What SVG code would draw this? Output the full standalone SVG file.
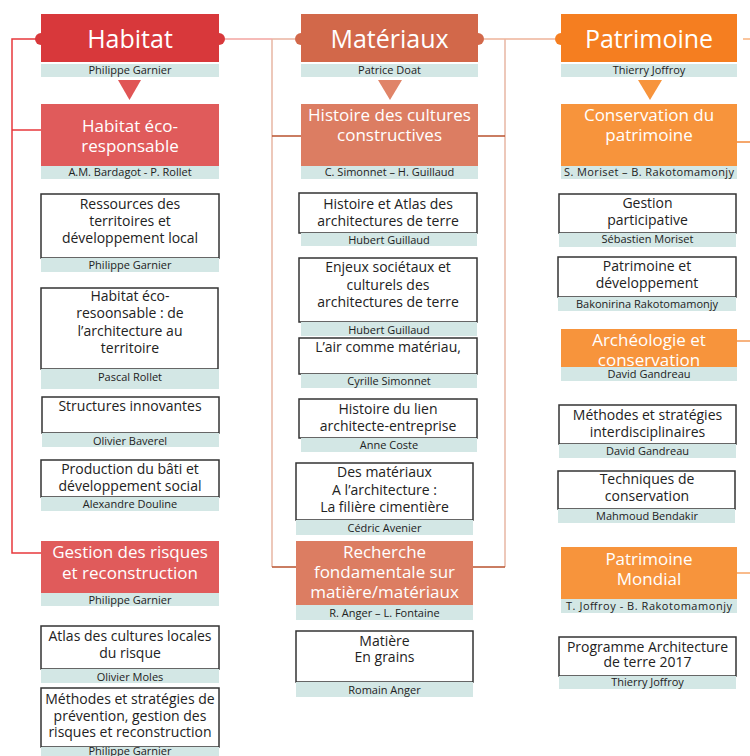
<svg xmlns="http://www.w3.org/2000/svg" width="750" height="756" viewBox="0 0 750 756">
<style>
text{font-family:"Open Sans","DejaVu Sans",sans-serif;text-anchor:middle}
.h{font-size:25px;fill:#fff}
.s{font-size:17px;fill:#fff}
.t{font-size:14px;fill:#222}
.c{font-size:11px;fill:#222}
.box{fill:#fff;stroke:#333;stroke-width:1.5}
.cap{fill:#d3e7e5}
.ln{fill:none;stroke-width:1.5}
</style>
<rect width="750" height="756" fill="#fff"/>
<g id="connectors" class="ln">
<path d="M41,39H12V553H41M12,130H50" stroke="#e8383c"/>
<path d="M225,39H272" stroke="#f3a5a0"/>
<path d="M272,39H295" stroke="#eab3a1"/>
<path d="M272,39V567M505,39V567" stroke="#e8b6a4"/>
<path d="M272,136H310M465,136H505M272,567H298M465,567H505" stroke="#b9532f"/>
<path d="M484,39H555" stroke="#eeb39a"/>
<path d="M743,39H750" stroke="#f9b27c"/>
<path d="M737,142H750" stroke="#f28a3b"/>
<path d="M737,341H750" stroke="#f59a55"/>
<path d="M737,573H750" stroke="#f7a565"/>
</g>
<!-- Habitat column -->
<g id="habitat">
<circle cx="41" cy="39" r="6" fill="#d8383b"/><circle cx="219" cy="39" r="6" fill="#d8383b"/>
<rect x="41" y="14" width="178" height="48" fill="#d8383b"/>
<text class="h" x="130" y="48">Habitat</text>
<rect class="cap" x="41" y="64" width="178" height="13"/>
<text class="c" x="130" y="74">Philippe Garnier</text>
<path d="M118,80H141L129.5,100Z" fill="#e05555"/>
</g>
<g id="habitat-eco">
<rect x="41" y="104" width="178" height="62" fill="#e05b5b"/>
<text class="s" x="130" y="132">Habitat éco-</text>
<text class="s" x="130" y="152">responsable</text>
<rect class="cap" x="41" y="166" width="178" height="13"/>
<text class="c" x="130" y="176">A.M. Bardagot - P. Rollet</text>
</g>
<g id="ressources">
<rect class="box" x="41" y="194" width="178" height="64"/>
<text class="t" x="130" y="209">Ressources des</text>
<text class="t" x="130" y="226">territoires et</text>
<text class="t" x="130" y="243">développement local</text>
<rect class="cap" x="41" y="258" width="178" height="14"/>
<text class="c" x="130" y="269">Philippe Garnier</text>
</g>
<g id="habitat-eco-resp">
<rect class="box" x="41" y="288" width="177" height="81"/>
<text class="t" x="130" y="301">Habitat éco-</text>
<text class="t" x="130" y="318">resoonsable : de</text>
<text class="t" x="130" y="336">l’architecture au</text>
<text class="t" x="130" y="353">territoire</text>
<rect class="cap" x="41" y="369" width="178" height="20"/>
<text class="c" x="130" y="381">Pascal Rollet</text>
</g>
<g id="structures">
<rect class="box" x="42" y="397" width="177" height="36"/>
<text class="t" x="130" y="411">Structures innovantes</text>
<rect class="cap" x="42" y="433" width="177" height="14"/>
<text class="c" x="130" y="445">Olivier Baverel</text>
</g>
<g id="production">
<rect class="box" x="41" y="460" width="178" height="37"/>
<text class="t" x="130" y="474">Production du bâti et</text>
<text class="t" x="130" y="491">développement social</text>
<rect class="cap" x="41" y="497" width="178" height="14"/>
<text class="c" x="130" y="508">Alexandre Douline</text>
</g>
<g id="gestion-risques">
<rect x="41" y="541" width="178" height="52" fill="#e05b5b"/>
<text class="s" x="130" y="558">Gestion des risques</text>
<text class="s" x="130" y="579">et reconstruction</text>
<rect class="cap" x="41" y="593" width="178" height="13"/>
<text class="c" x="130" y="604">Philippe Garnier</text>
</g>
<g id="atlas-risque">
<rect class="box" x="41" y="626" width="178" height="43"/>
<text class="t" x="130" y="641">Atlas des cultures locales</text>
<text class="t" x="130" y="658">du risque</text>
<rect class="cap" x="41" y="669" width="178" height="14"/>
<text class="c" x="130" y="681">Olivier Moles</text>
</g>
<g id="methodes-prevention">
<rect class="box" x="41" y="688" width="178" height="59"/>
<text class="t" x="130" y="704">Méthodes et stratégies de</text>
<text class="t" x="130" y="721">prévention, gestion des</text>
<text class="t" x="130" y="737">risques et reconstruction</text>
<rect class="cap" x="41" y="747" width="178" height="9"/>
<text class="c" x="130" y="755">Philippe Garnier</text>
</g>
<!-- Matériaux column -->
<g id="materiaux">
<circle cx="301" cy="39" r="6" fill="#d2684a"/><circle cx="478" cy="39" r="6" fill="#d2684a"/>
<rect x="301" y="14" width="177" height="48" fill="#d2684a"/>
<text class="h" x="389.5" y="48">Matériaux</text>
<rect class="cap" x="301" y="64" width="177" height="13"/>
<text class="c" x="389.5" y="74">Patrice Doat</text>
<path d="M378,80H402L390,100Z" fill="#e08468"/>
</g>
<g id="histoire-cultures">
<rect x="301" y="104" width="177" height="62" fill="#dc7d62"/>
<text class="s" x="389.5" y="121">Histoire des cultures</text>
<text class="s" x="389.5" y="141">constructives</text>
<rect class="cap" x="301" y="166" width="177" height="13"/>
<text class="c" x="389.5" y="176">C. Simonnet – H. Guillaud</text>
</g>
<g id="histoire-atlas">
<rect class="box" x="299" y="193" width="178" height="40"/>
<text class="t" x="388" y="209">Histoire et Atlas des</text>
<text class="t" x="388" y="226">architectures de terre</text>
<rect class="cap" x="301" y="233" width="176" height="13"/>
<text class="c" x="389" y="244">Hubert Guillaud</text>
</g>
<g id="enjeux">
<rect class="box" x="299" y="258" width="178" height="64"/>
<text class="t" x="388" y="272">Enjeux sociétaux et</text>
<text class="t" x="388" y="290">culturels des</text>
<text class="t" x="388" y="307">architectures de terre</text>
<rect class="cap" x="301" y="322" width="176" height="14"/>
<text class="c" x="389" y="334">Hubert Guillaud</text>
</g>
<g id="air">
<rect class="box" x="299" y="338" width="178" height="36"/>
<text class="t" x="388" y="352">L’air comme matériau,</text>
<rect class="cap" x="301" y="374" width="176" height="14"/>
<text class="c" x="389" y="385">Cyrille Simonnet</text>
</g>
<g id="lien">
<rect class="box" x="299" y="399" width="178" height="39"/>
<text class="t" x="388" y="414">Histoire du lien</text>
<text class="t" x="388" y="431">architecte-entreprise</text>
<rect class="cap" x="301" y="438" width="176" height="14"/>
<text class="c" x="389" y="449">Anne Coste</text>
</g>
<g id="cimentiere">
<rect class="box" x="296" y="463" width="177" height="57"/>
<text class="t" x="384.5" y="477">Des matériaux</text>
<text class="t" x="384.5" y="495">A l’architecture :</text>
<text class="t" x="384.5" y="512">La filière cimentière</text>
<rect class="cap" x="296" y="520" width="177" height="15"/>
<text class="c" x="384.5" y="532">Cédric Avenier</text>
</g>
<g id="recherche">
<rect x="296" y="541" width="177" height="64" fill="#dc7d62"/>
<text class="s" x="384.5" y="558">Recherche</text>
<text class="s" x="384.5" y="578">fondamentale sur</text>
<text class="s" x="384.5" y="598">matière/matériaux</text>
<rect class="cap" x="296" y="605" width="177" height="15"/>
<text class="c" x="384.5" y="617">R. Anger – L. Fontaine</text>
</g>
<g id="matiere">
<rect class="box" x="296" y="631" width="177" height="51"/>
<text class="t" x="384.5" y="646">Matière</text>
<text class="t" x="384.5" y="662">En grains</text>
<rect class="cap" x="296" y="682" width="177" height="15"/>
<text class="c" x="384.5" y="694">Romain Anger</text>
</g>
<!-- Patrimoine column -->
<g id="patrimoine">
<circle cx="561" cy="39" r="6" fill="#f57e20"/>
<rect x="561" y="14" width="176" height="48" fill="#f57e20"/>
<text class="h" x="649" y="48">Patrimoine</text>
<rect class="cap" x="561" y="64" width="176" height="13"/>
<text class="c" x="649" y="74">Thierry Joffroy</text>
<path d="M638,80H662L650,100Z" fill="#f7943c"/>
</g>
<g id="conservation">
<rect x="561" y="104" width="176" height="62" fill="#f7943c"/>
<text class="s" x="649" y="121">Conservation du</text>
<text class="s" x="649" y="141">patrimoine</text>
<rect class="cap" x="561" y="166" width="176" height="13"/>
<text class="c" x="649" y="176" textLength="170">S. Moriset – B. Rakotomamonjy</text>
</g>
<g id="gestion-participative">
<rect class="box" x="559" y="194" width="177" height="39"/>
<text class="t" x="647.5" y="208">Gestion</text>
<text class="t" x="647.5" y="225">participative</text>
<rect class="cap" x="559" y="233" width="177" height="14"/>
<text class="c" x="647.5" y="243">Sébastien Moriset</text>
</g>
<g id="patrimoine-dev">
<rect class="box" x="558" y="257" width="178" height="40"/>
<text class="t" x="647" y="271">Patrimoine et</text>
<text class="t" x="647" y="288">développement</text>
<rect class="cap" x="558" y="297" width="178" height="14"/>
<text class="c" x="647" y="308">Bakonirina Rakotomamonjy</text>
</g>
<g id="archeologie">
<rect x="561" y="329" width="176" height="38" fill="#f7943c"/>
<text class="s" x="649" y="346">Archéologie et</text>
<text class="s" x="649" y="366">conservation</text>
<rect class="cap" x="561" y="367" width="176" height="14"/>
<text class="c" x="649" y="378">David Gandreau</text>
</g>
<g id="methodes-inter">
<rect class="box" x="559" y="405" width="177" height="39"/>
<text class="t" x="647.5" y="420">Méthodes et stratégies</text>
<text class="t" x="647.5" y="437">interdisciplinaires</text>
<rect class="cap" x="559" y="444" width="177" height="14"/>
<text class="c" x="647.5" y="455">David Gandreau</text>
</g>
<g id="techniques">
<rect class="box" x="558" y="471" width="177" height="38"/>
<text class="t" x="647" y="484">Techniques de</text>
<text class="t" x="647" y="501">conservation</text>
<rect class="cap" x="558" y="509" width="177" height="14"/>
<text class="c" x="647" y="520">Mahmoud Bendakir</text>
</g>
<g id="patrimoine-mondial">
<rect x="561" y="547" width="176" height="52" fill="#f7943c"/>
<text class="s" x="649" y="565">Patrimoine</text>
<text class="s" x="649" y="585">Mondial</text>
<rect class="cap" x="561" y="599" width="176" height="14"/>
<text class="c" x="649" y="610" textLength="166">T. Joffroy - B. Rakotomamonjy</text>
</g>
<g id="programme">
<rect class="box" x="559" y="637" width="177" height="39"/>
<text class="t" x="647.5" y="652">Programme Architecture</text>
<text class="t" x="647.5" y="667">de terre 2017</text>
<rect class="cap" x="559" y="676" width="177" height="13"/>
<text class="c" x="647.5" y="686">Thierry Joffroy</text>
</g>
</svg>
